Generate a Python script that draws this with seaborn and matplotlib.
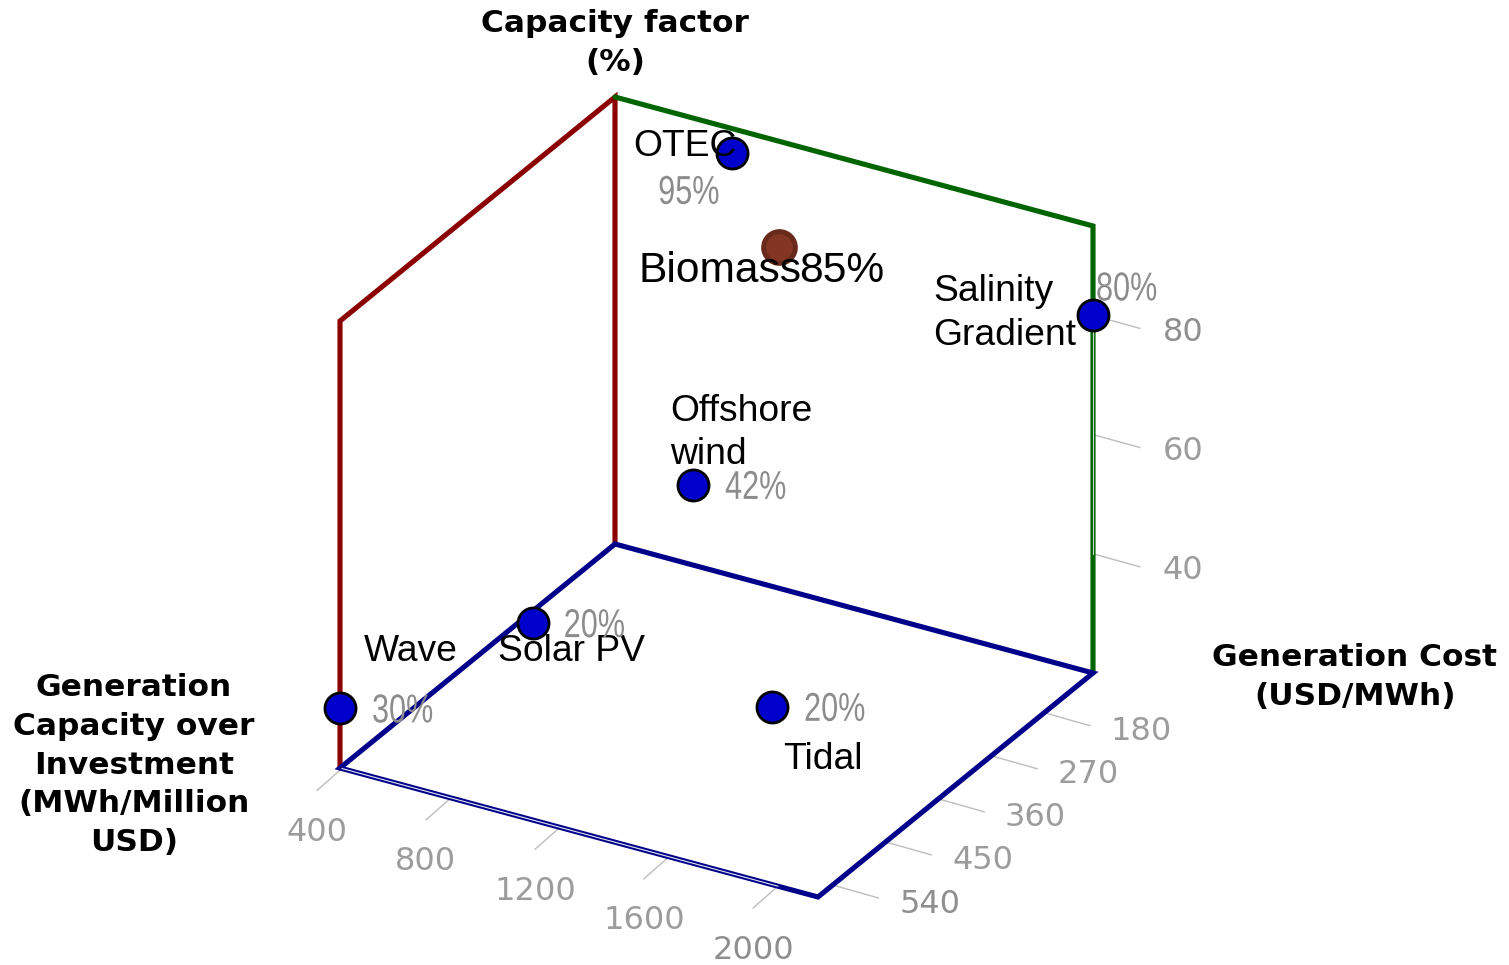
import matplotlib
matplotlib.use("Agg")
import matplotlib.patheffects as pe
import matplotlib.pyplot as plt
from matplotlib.transforms import Affine2D
import numpy as np
import pandas as pd
import seaborn as sns

# values
names = ["OTEC", "Biomass", "Salinity\nGradient", "Offshore\nwind", "Solar PV", "Wave", "Tidal"]
capacity = [905, 1151, 2147, 852, 434, 393, 1377]
cost = [135, 169, 97, 177, 256, 565, 286]
factor = [95, 85, 80, 42, 20, 30, 20]

capacity_ticks = [400, 800, 1200, 1600, 2000]
cost_ticks = [180, 270, 360, 450, 540]
factor_ticks = [40, 60, 80]

cap_lim = (393, 2147)
cost_lim = (97, 565)
factor_lim = (20, 95)


# fixed oblique view of the box, result is in figure pixels
def project(cap, cst, fac):
    a = (np.asarray(cap, dtype=float) - cap_lim[0]) / (cap_lim[1] - cap_lim[0])
    b = (np.asarray(cst, dtype=float) - cost_lim[0]) / (cost_lim[1] - cost_lim[0])
    c = (np.asarray(fac, dtype=float) - factor_lim[0]) / (factor_lim[1] - factor_lim[0])
    return 615 + 478 * a - 275 * b, 544 + 129 * a + 224 * b - 447 * c


def edge(ax, cap, cst, fac, color, lw=3.7, z=2):
    px, py = project(cap, cst, fac)
    sns.lineplot(x=px, y=py, sort=False, estimator=None, color=color, linewidth=lw,
                 solid_joinstyle="miter", solid_capstyle="round", zorder=z, ax=ax)


# no narrow font installed, so squeeze the glyphs sideways around the text's left edge
class Squeeze(pe.AbstractPathEffect):
    def __init__(self, left, k):
        super().__init__()
        self.left = left
        self.k = k

    def draw_path(self, renderer, gc, tpath, affine, rgbFace=None):
        squeeze = Affine2D().translate(-self.left, 0).scale(self.k, 1).translate(self.left, 0)
        renderer.draw_path(gc, tpath, affine + squeeze, rgbFace)


sns.set_theme(style="white")
plt.rcParams["font.family"] = ["DejaVu Sans"]

fig = plt.figure(figsize=(15.09, 9.65), dpi=100)
ax = fig.add_axes([0, 0, 1, 1])

c0, c1 = cap_lim
k0, k1 = cost_lim
f0, f1 = factor_lim

red = "#8b0000"
green = "#006400"
navy = "#00008b"
edge(ax, [c0, c0, c0, c0], [k0, k0, k1, k1], [f0, f1, f1, f0], red)
edge(ax, [c0, c1, c1], [k0, k0, k0], [f1, f1, f0], green)
edge(ax, [c0, c1, c1, c0, c0], [k0, k0, k1, k1, k0], [f0, f0, f0, f0, f0], navy)

# pale stripe the grid leaves inside the axis lines
edge(ax, [capacity_ticks[0], capacity_ticks[-1]], [k1, k1], [f0, f0], "#e4e4ee", lw=0.8, z=3)
edge(ax, [c1, c1], [k0, k0], [factor_ticks[0], factor_ticks[-1]], "#cfdccf", lw=0.8, z=3)

# ticks and tick labels
tick_grey = "#bdbdbd"
text_grey = "#9c9c9c"
for t in capacity_ticks:
    px, py = project(t, k1, f0)
    ax.plot([px, px - 25], [py, py + 22], color=tick_grey, lw=1, zorder=1)
    ax.text(px - 25, py + 64, str(t), color="#8f8f8f" if t == 2000 else text_grey,
            fontsize=23, ha="center", va="center")
for t in cost_ticks:
    px, py = project(c1, t, f0)
    ax.plot([px, px + 46], [py, py + 13], color=tick_grey, lw=1, zorder=1)
    ax.text(px + 97, py + 19, str(t), color="#8f8f8f" if t == 540 else text_grey,
            fontsize=23, ha="center", va="center")
for t in factor_ticks:
    px, py = project(c1, k0, t)
    ax.plot([px, px + 47], [py, py + 13], color=tick_grey, lw=1, zorder=1)
    ax.text(px + 90, py + 17, str(t), color="#8f8f8f" if t == 80 else text_grey,
            fontsize=23, ha="center", va="center")

# points
sx, sy = project(capacity, cost, factor)
df = pd.DataFrame({"name": names, "sx": sx, "sy": sy, "factor": factor})
picked = df["name"] == "Biomass"
sns.scatterplot(data=df[~picked], x="sx", y="sy", s=500, color="#0000cd",
                edgecolor="black", linewidth=2, zorder=5, ax=ax)
sns.scatterplot(data=df[picked], x="sx", y="sy", s=520, color="#843624",
                edgecolor="#682a1a", linewidth=3.6, zorder=5, ax=ax)

# label offsets from each point: name dx, dy, percent dx, dy
offsets = {
    "OTEC": (-99, -6, -74, 40),
    "Biomass": (-141, 24, 20, 24),
    "Salinity\nGradient": (-160, -2, 3, -26),
    "Offshore\nwind": (-23, -52, 32, 3),
    "Solar PV": (-35, 28, 31, 3),
    "Wave": (24, -57, 32, 3),
    "Tidal": (11, 53, 32, 3),
}
for _, row in df.iterrows():
    ndx, ndy, pdx, pdy = offsets[row["name"]]
    big = row["name"] == "Biomass"
    ax.text(row["sx"] + ndx, row["sy"] + ndy, row["name"], family="Liberation Sans",
            fontsize=30.6 if big else 26.8, color="black", ha="left", va="center",
            linespacing=1.31, zorder=6)
    left = row["sx"] + pdx
    if big:
        ax.text(left, row["sy"] + pdy, f"{row['factor']}%", family="Liberation Sans",
                fontsize=30.6, color="black", ha="left", va="center", zorder=6)
    else:
        ax.text(left, row["sy"] + pdy, f"{row['factor']}%", family="Liberation Sans",
                fontsize=29, color="#8c8c8c", ha="left", va="center", zorder=6,
                path_effects=[Squeeze(left, 0.76)])

# axis titles
title_style = dict(fontsize=22.5, fontweight="bold", color="black", ha="center", va="center",
                   linespacing=1.42)
ax.text(615, 43, "Capacity factor\n(%)", **title_style)
ax.text(1355, 677, "Generation Cost\n(USD/MWh)", **title_style)
ax.text(134, 765, "Generation\nCapacity over\nInvestment\n(MWh/Million\nUSD)", **title_style)

ax.set_xlim(0, 1509)
ax.set_ylim(965, 0)
ax.axis("off")

fig.savefig("out.png", dpi=100, facecolor="white")
